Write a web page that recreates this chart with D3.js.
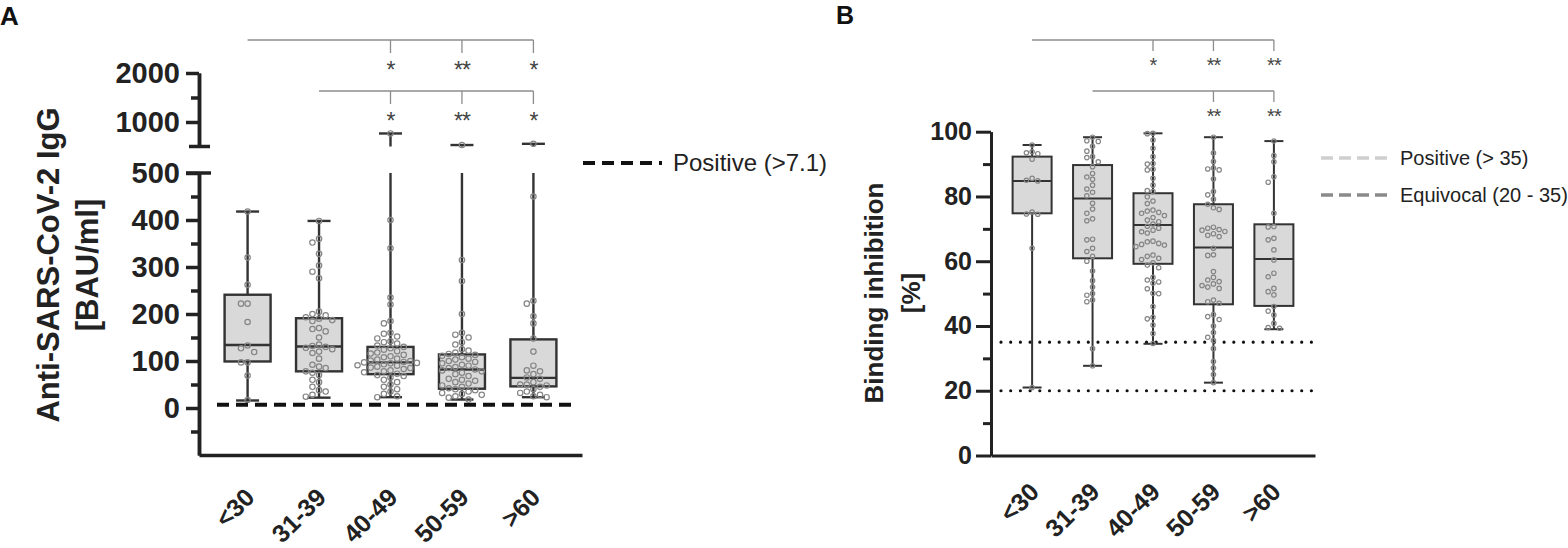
<!DOCTYPE html>
<html>
<head>
<meta charset="utf-8">
<script src="https://cdn.jsdelivr.net/npm/d3@7"></script>
<style>
  body { margin: 0; background: #fff; }
  svg { font-family: "Liberation Sans", Arial, sans-serif; }
</style>
</head>
<body>
<svg id="fig" width="1568" height="548"></svg>
<script>
// age groups (shared by both panels)
const ageGroups = ["<30", "31-39", "40-49", "50-59", ">60"];

// panel A: anti-SARS-CoV-2 IgG [BAU/ml]
const iggMin = [16, 22, 23, 18, 23];
const iggQ1 = [99, 78, 72, 41, 46];
const iggMedian = [134, 131, 97, 82, 64];
const iggQ3 = [241, 191, 130, 114, 146];
const iggMax = [418, 398, 766, 530, 555];
const iggPoints = [
  [418, 320, 262, 222, 222, 183, 133, 127, 119, 97, 97, 69, 17],
  [398, 360, 352, 328, 303, 290, 276, 205, 200, 197, 193, 190, 187, 185, 170, 168, 163, 150, 135, 132,
   130, 128, 125, 120, 117, 105, 92, 88, 85, 78, 75, 70, 60, 55, 45, 38, 35, 28, 24],
  [766, 400, 340, 235, 220, 185, 180, 160, 158, 152, 148, 142, 140, 137, 133, 130, 127, 124, 121, 118,
   116, 113, 110, 108, 105, 103, 101, 100, 98, 97, 96, 95, 93, 91, 90, 88, 86, 85, 83, 80,
   78, 76, 73, 70, 68, 65, 60, 55, 50, 45, 40, 35, 30, 25, 23],
  [530, 315, 270, 200, 160, 156, 150, 140, 135, 125, 122, 118, 115, 113, 111, 108, 105, 103, 100, 98,
   95, 92, 90, 87, 85, 82, 80, 78, 75, 72, 68, 62, 60, 58, 55, 52, 48, 45, 42, 40,
   38, 35, 32, 30, 28, 25, 22, 18],
  [555, 450, 228, 222, 195, 180, 148, 120, 90, 80, 78, 72, 65, 62, 55, 50, 50, 48, 45, 40,
   35, 32, 28, 25, 23]
];
const iggCutoff = 7.1;
const iggLowTicks = [0, 100, 200, 300, 400, 500];
const iggLowMinor = [-50, 50, 150, 250, 350, 450];
const iggHighTicks = [1000, 2000];
const iggHighMinor = [1500];

// panel B: binding inhibition [%]
const inhMin = [21, 27.7, 34.5, 22.5, 39];
const inhQ1 = [74.8, 60.9, 59.2, 46.7, 46.2];
const inhMedian = [84.8, 79.4, 71.2, 64.2, 60.7];
const inhQ3 = [92.3, 89.7, 81, 77.6, 71.4];
const inhMax = [95.9, 98.3, 99.5, 98.3, 97.1];
const inhPoints = [
  [95.9, 93.8, 93.5, 93.2, 91.5, 85.6, 85, 84.8, 75.2, 74.6, 74.5, 64, 21],
  [98.3, 97.2, 97.0, 95.5, 94, 92.3, 92, 90.7, 89.2, 87.1, 86, 85.3, 83.5, 82.3, 81.3, 80.2, 77.9, 76.1,
   74.8, 73.1, 72.5, 66.8, 66.6, 64, 63, 61.5, 60, 57, 54, 52, 50, 49.5, 48, 47.5, 33, 27.7],
  [99.5, 99.4, 97.4, 94.9, 92.3, 90.2, 90, 88.4, 88.2, 85.6, 83.5, 81.8, 81.5, 79.9, 78.6, 77.8, 75.8,
   75.5, 75.1, 74.8, 74.1, 73.5, 72.7, 72.2, 71.5, 70.8, 70.2, 69.6, 69.1, 68.7, 66.2, 66, 65.5, 65.2,
   65, 64.5, 61.9, 61.5, 60.9, 60.5, 59.5, 58.8, 58, 55, 54.2, 53.6, 53.2, 51.5, 50.1, 50, 46, 42.7,
   42.2, 40.3, 37.7, 34.6],
  [98.3, 93.4, 90.8, 88.8, 88.5, 88.2, 85.4, 81.5, 80.5, 79.1, 77.6, 76.5, 76, 70.5, 70.2, 69.8, 69.6,
   69.2, 68.5, 68, 67.6, 64, 62, 61.8, 56.8, 55, 54.2, 53.7, 53, 52.5, 52, 51.6, 48, 47.5, 47, 43.5,
   42.9, 42, 40, 38, 36.5, 35.5, 33, 29, 27, 25, 22.5],
  [97.1, 92.6, 90.7, 86.1, 84.4, 74.8, 70.7, 70.6, 67.1, 66.6, 63.5, 60.4, 56.3, 55.2, 51.6, 50.6,
   49.6, 46, 44.6, 43.4, 40.8, 39.5, 39.3]
];
const inhPositive = 35;
const inhEquivocal = 20;
const inhTicks = [0, 20, 40, 60, 80, 100];
const inhMinor = [10, 30, 50, 70, 90];

// significance brackets: reference group per row, stars per group
const sigRefA = ["<30", "31-39"];
const sigStarsA = [["", "", "*", "**", "*"], ["", "", "*", "**", "*"]];
const sigRefB = ["<30", "31-39"];
const sigStarsB = [["", "", "*", "**", "**"], ["", "", "", "**", "**"]];

const svg = d3.select("#fig");
svg.append("rect").attr("width", 1568).attr("height", 548).attr("fill", "#fff");

const ink = "#222";
const boxInk = "#333";

// simple deterministic beeswarm: each point takes the nearest free column slot
function swarm(values, yFn, r, gap) {
  const placed = [];
  const step = 2 * r + gap;
  values.slice().sort((a, b) => b - a).forEach(v => {
    const y = yFn(v);
    let off = 0;
    for (let k = 0; k < 40; k++) {
      off = k === 0 ? 0 : (k % 2 ? -1 : 1) * Math.ceil(k / 2) * step;
      const hit = placed.some(p => Math.hypot(p.dx - off, p.y - y) < step);
      if (!hit) break;
    }
    placed.push({ dx: off, y: y, v: v });
  });
  return placed;
}

function drawBoxes(g, x, yFn, stats, opt) {
  ageGroups.forEach((grp, i) => {
    const cx = x(grp);
    const whis = g.append("g").attr("stroke", boxInk).attr("stroke-width", opt.lw);
    // lower whisker
    whis.append("line").attr("x1", cx).attr("x2", cx).attr("y1", yFn(stats.q1[i])).attr("y2", yFn(stats.min[i]));
    whis.append("line").attr("x1", cx - opt.cap / 2).attr("x2", cx + opt.cap / 2)
      .attr("y1", yFn(stats.min[i])).attr("y2", yFn(stats.min[i]));
    // upper whisker (maybe across the axis break)
    if (opt.breakAt !== undefined && stats.max[i] > opt.breakAt) {
      whis.append("line").attr("x1", cx).attr("x2", cx).attr("y1", yFn(stats.q3[i])).attr("y2", opt.lowTop);
      whis.append("line").attr("x1", cx).attr("x2", cx).attr("y1", opt.highBottom).attr("y2", yFn(stats.max[i]));
    } else {
      whis.append("line").attr("x1", cx).attr("x2", cx).attr("y1", yFn(stats.q3[i])).attr("y2", yFn(stats.max[i]));
    }
    whis.append("line").attr("x1", cx - opt.cap / 2).attr("x2", cx + opt.cap / 2)
      .attr("y1", yFn(stats.max[i])).attr("y2", yFn(stats.max[i]));

    g.append("rect")
      .attr("x", cx - opt.bw / 2)
      .attr("y", yFn(stats.q3[i]))
      .attr("width", opt.bw)
      .attr("height", yFn(stats.q1[i]) - yFn(stats.q3[i]))
      .attr("fill", "#d9d9d9")
      .attr("stroke", boxInk)
      .attr("stroke-width", opt.lw);
    g.append("line")
      .attr("x1", cx - opt.bw / 2).attr("x2", cx + opt.bw / 2)
      .attr("y1", yFn(stats.median[i])).attr("y2", yFn(stats.median[i]))
      .attr("stroke", boxInk).attr("stroke-width", opt.lw);

    const pts = swarm(stats.points[i], yFn, opt.r, opt.gap);
    g.append("g").selectAll("circle")
      .data(pts)
      .join("circle")
      .attr("cx", d => cx + d.dx)
      .attr("cy", d => d.y)
      .attr("r", opt.r)
      .attr("fill", "none")
      .attr("stroke", "#858585")
      .attr("stroke-width", 1.2);
  });
}

function drawBrackets(g, x, refs, stars, rows, opt) {
  refs.forEach((ref, row) => {
    const y0 = rows[row];
    const marked = ageGroups.filter((grp, i) => stars[row][i] !== "");
    const last = marked[marked.length - 1];
    g.append("line")
      .attr("x1", x(ref)).attr("x2", x(last)).attr("y1", y0).attr("y2", y0)
      .attr("stroke", "#8c8c8c").attr("stroke-width", 1.3);
    ageGroups.forEach((grp, i) => {
      if (stars[row][i] === "") return;
      g.append("line")
        .attr("x1", x(grp)).attr("x2", x(grp)).attr("y1", y0).attr("y2", y0 + opt.drop)
        .attr("stroke", "#8c8c8c").attr("stroke-width", 1.3);
      g.append("text")
        .attr("x", x(grp))
        .attr("y", y0 + opt.starOff + 0.6 * opt.fs)
        .attr("text-anchor", "middle")
        .attr("font-size", opt.fs)
        .attr("letter-spacing", "-1px")
        .attr("fill", "#444")
        .text(stars[row][i]);
    });
  });
}

function styleAxis(sel, lw, fs) {
  sel.selectAll("path").attr("stroke", ink).attr("stroke-width", lw);
  sel.selectAll("line").attr("stroke", ink).attr("stroke-width", lw);
  sel.selectAll("text").attr("fill", ink).attr("font-size", fs).attr("font-weight", "bold");
}

// ---------------- panel A ----------------
const gA = svg.append("g");
const xA = d3.scalePoint().domain(ageGroups).range([199, 582]).padding(0.68);
const yLow = d3.scaleLinear().domain([-100, 500]).range([455, 173]);
const yHigh = d3.scaleLinear().domain([500, 2000]).range([146.5, 73]);
const yA = v => (v > 500 ? yHigh(v) : yLow(v));

gA.append("text").attr("x", 0).attr("y", 25).attr("font-size", 26).attr("font-weight", "bold").attr("fill", "#111").text("A");

const axLow = gA.append("g").attr("transform", "translate(199,0)")
  .call(d3.axisLeft(yLow).tickValues(iggLowTicks).tickSize(13).tickSizeOuter(0).tickPadding(6).tickFormat(d3.format("d")));
styleAxis(axLow, 3.5, 29);
const axLowMinor = gA.append("g").attr("transform", "translate(199,0)")
  .call(d3.axisLeft(yLow).tickValues(iggLowMinor).tickSize(8).tickSizeOuter(0).tickFormat(""));
styleAxis(axLowMinor, 3.5, 29);
const axHigh = gA.append("g").attr("transform", "translate(199,0)")
  .call(d3.axisLeft(yHigh).tickValues(iggHighTicks).tickSize(13).tickSizeOuter(0).tickPadding(6).tickFormat(d3.format("d")));
styleAxis(axHigh, 3.5, 29);
const axHighMinor = gA.append("g").attr("transform", "translate(199,0)")
  .call(d3.axisLeft(yHigh).tickValues(iggHighMinor).tickSize(8).tickSizeOuter(0).tickFormat(""));
styleAxis(axHighMinor, 3.5, 29);
// axis break caps
gA.append("line").attr("x1", 186).attr("x2", 211).attr("y1", yLow(500)).attr("y2", yLow(500))
  .attr("stroke", ink).attr("stroke-width", 3.5);
gA.append("line").attr("x1", 189).attr("x2", 210).attr("y1", yHigh(500)).attr("y2", yHigh(500))
  .attr("stroke", ink).attr("stroke-width", 3.5);

const axXA = gA.append("g").attr("transform", `translate(0,${yLow(-100)})`)
  .call(d3.axisBottom(xA).tickSize(0).tickSizeOuter(0));
styleAxis(axXA, 3.5, 25);
axXA.selectAll("text")
  .attr("x", 0).attr("y", 0).attr("dy", null)
  .attr("text-anchor", "end")
  .attr("transform", "translate(8,44) rotate(-45)");

gA.append("text")
  .attr("transform", `translate(59,265) rotate(-90)`)
  .attr("text-anchor", "middle").attr("font-size", 31).attr("font-weight", "bold").attr("fill", ink)
  .text("Anti-SARS-CoV-2 IgG");
gA.append("text")
  .attr("transform", `translate(98,265) rotate(-90)`)
  .attr("text-anchor", "middle").attr("font-size", 31).attr("font-weight", "bold").attr("fill", ink)
  .text("[BAU/ml]");

drawBoxes(gA, xA, yA, {
  min: iggMin, q1: iggQ1, median: iggMedian, q3: iggQ3, max: iggMax, points: iggPoints
}, { bw: 46, cap: 23, lw: 2.4, r: 2.7, gap: 1.2, breakAt: 500, lowTop: yLow(500), highBottom: yHigh(500) });

// positivity cutoff
gA.append("line")
  .attr("x1", 217).attr("x2", 571)
  .attr("y1", yLow(iggCutoff)).attr("y2", yLow(iggCutoff))
  .attr("stroke", "#111").attr("stroke-width", 4).attr("stroke-dasharray", "12 7");

gA.append("line").attr("x1", 583).attr("x2", 662).attr("y1", 163).attr("y2", 163)
  .attr("stroke", "#111").attr("stroke-width", 4).attr("stroke-dasharray", "12 7");
gA.append("text").attr("x", 673).attr("y", 163).attr("dy", "0.35em")
  .attr("font-size", 24).attr("fill", ink).text("Positive (>7.1)");

drawBrackets(gA, xA, sigRefA, sigStarsA, [40, 91], { drop: 13, starOff: 24, fs: 23 });

// ---------------- panel B ----------------
const gB = svg.append("g");
const xB = d3.scalePoint().domain(ageGroups).range([991, 1315]).padding(0.68);
const yB = d3.scaleLinear().domain([0, 100]).range([455.5, 131.7]);

gB.append("text").attr("x", 836).attr("y", 24).attr("font-size", 25).attr("font-weight", "bold").attr("fill", "#111").text("B");

const axB = gB.append("g").attr("transform", "translate(991,0)")
  .call(d3.axisLeft(yB).tickValues(inhTicks).tickSize(15).tickSizeOuter(0).tickPadding(4));
styleAxis(axB, 3, 25);
const axBMinor = gB.append("g").attr("transform", "translate(991,0)")
  .call(d3.axisLeft(yB).tickValues(inhMinor).tickSize(8).tickSizeOuter(0).tickFormat(""));
styleAxis(axBMinor, 3, 25);

const axXB = gB.append("g").attr("transform", `translate(0,${yB(0)})`)
  .call(d3.axisBottom(xB).tickSize(0).tickSizeOuter(0));
styleAxis(axXB, 3, 25);
axXB.selectAll("text")
  .attr("x", 0).attr("y", 0).attr("dy", null)
  .attr("text-anchor", "end")
  .attr("transform", "translate(8,38) rotate(-45)");

gB.append("text")
  .attr("transform", `translate(883,293) rotate(-90)`)
  .attr("text-anchor", "middle").attr("font-size", 26).attr("font-weight", "bold").attr("fill", ink)
  .text("Binding inhibition");
gB.append("text")
  .attr("transform", `translate(920,293) rotate(-90)`)
  .attr("text-anchor", "middle").attr("font-size", 26).attr("font-weight", "bold").attr("fill", ink)
  .text("[%]");

// cutoff lines (dotted)
[inhPositive, inhEquivocal].forEach(v => {
  gB.append("line")
    .attr("x1", 1001).attr("x2", 1312)
    .attr("y1", yB(v)).attr("y2", yB(v))
    .attr("stroke", "#111").attr("stroke-width", 3.2)
    .attr("stroke-linecap", "round").attr("stroke-dasharray", "0 9.7");
});

drawBoxes(gB, xB, yB, {
  min: inhMin, q1: inhQ1, median: inhMedian, q3: inhQ3, max: inhMax, points: inhPoints
}, { bw: 39, cap: 19, lw: 2, r: 2.2, gap: 1.3 });

const legB = [
  { label: "Positive (> 35)", color: "#cfcfcf", y: 158 },
  { label: "Equivocal (20 - 35)", color: "#8a8a8a", y: 195 }
];
legB.forEach(d => {
  gB.append("line").attr("x1", 1321).attr("x2", 1390).attr("y1", d.y).attr("y2", d.y)
    .attr("stroke", d.color).attr("stroke-width", 3.5).attr("stroke-dasharray", "12 6");
  gB.append("text").attr("x", 1400).attr("y", d.y).attr("dy", "0.35em")
    .attr("font-size", 20).attr("fill", ink).text(d.label);
});

drawBrackets(gB, xB, sigRefB, sigStarsB, [40, 91], { drop: 11, starOff: 20, fs: 20 });
</script>
</body>
</html>
